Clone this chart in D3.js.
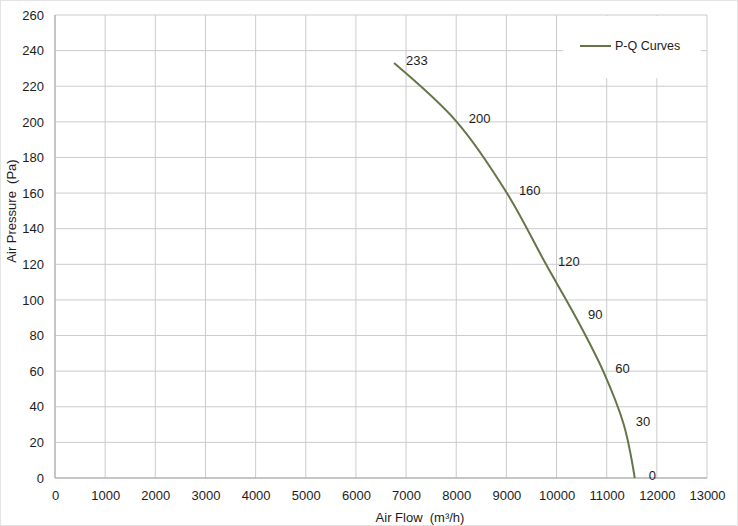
<!DOCTYPE html>
<html>
<head>
<meta charset="utf-8">
<script src="https://cdn.jsdelivr.net/npm/d3@7"></script>
<style>
  body { margin: 0; background: #fff; }
  svg { display: block; font-family: "Liberation Sans", Arial, sans-serif; }
  text { white-space: pre; }
</style>
</head>
<body>
<div id="chart"></div>
<script>
// P-Q curve
var pressure = [233, 200, 160, 120, 90, 60, 30, 0];
var airflow  = [6760, 8010, 9010, 9790, 10390, 10930, 11340, 11560];
var xTicks = [0, 1000, 2000, 3000, 4000, 5000, 6000, 7000, 8000, 9000, 10000, 11000, 12000, 13000];
var yTicks = [0, 20, 40, 60, 80, 100, 120, 140, 160, 180, 200, 220, 240, 260];
var seriesName = 'P-Q Curves';

var width = 738, height = 526;
var plotLeft = 55, plotRight = 707, plotTop = 15, plotBottom = 478;

var svg = d3.select('#chart').append('svg')
    .attr('width', width)
    .attr('height', height);

var x = d3.scaleLinear().domain([0, 13000]).range([plotLeft, plotRight]);
var y = d3.scaleLinear().domain([0, 260]).range([plotBottom, plotTop]);

// grid
svg.append('g')
    .selectAll('line')
    .data(xTicks)
    .enter().append('line')
    .attr('x1', function (d) { return x(d); })
    .attr('x2', function (d) { return x(d); })
    .attr('y1', plotTop).attr('y2', plotBottom)
    .attr('stroke', '#cbcbcb').attr('stroke-width', 1);

svg.append('g')
    .selectAll('line')
    .data(yTicks)
    .enter().append('line')
    .attr('x1', plotLeft).attr('x2', plotRight)
    .attr('y1', function (d) { return y(d); })
    .attr('y2', function (d) { return y(d); })
    .attr('stroke', '#cbcbcb').attr('stroke-width', 1);

// axes lines
svg.append('line')
    .attr('x1', plotLeft).attr('x2', plotRight)
    .attr('y1', plotBottom).attr('y2', plotBottom)
    .attr('stroke', '#a8a8a8').attr('stroke-width', 1.2);
svg.append('line')
    .attr('x1', plotLeft).attr('x2', plotLeft)
    .attr('y1', plotTop).attr('y2', plotBottom)
    .attr('stroke', '#b0b0b0').attr('stroke-width', 1.2);

// tick labels
var xAxis = svg.append('g')
    .attr('transform', 'translate(0,' + (plotBottom + 10) + ')')
    .call(d3.axisBottom(x).tickValues(xTicks).tickSize(0).tickFormat(d3.format('d')));
xAxis.select('.domain').remove();
xAxis.selectAll('text')
    .attr('font-size', 13).attr('fill', '#1c1c1c')
    .attr('font-family', '"Liberation Sans", Arial, sans-serif');

var yAxis = svg.append('g')
    .attr('transform', 'translate(' + (plotLeft - 10) + ',0)')
    .call(d3.axisLeft(y).tickValues(yTicks).tickSize(0).tickFormat(d3.format('d')));
yAxis.select('.domain').remove();
yAxis.selectAll('text')
    .attr('x', -1)
    .attr('font-size', 13).attr('fill', '#1c1c1c')
    .attr('font-family', '"Liberation Sans", Arial, sans-serif');

// axis titles
svg.append('text')
    .attr('x', 420).attr('y', 522)
    .attr('text-anchor', 'middle')
    .attr('font-size', 13).attr('fill', '#1c1c1c')
    .text('Air Flow  (m\u00b3/h)');

svg.append('text')
    .attr('transform', 'translate(16,211) rotate(-90)')
    .attr('text-anchor', 'middle')
    .attr('font-size', 13).attr('fill', '#1c1c1c')
    .text('Air Pressure  (Pa)');

// curve
var points = d3.zip(airflow, pressure);
var line = d3.line()
    .x(function (d) { return x(d[0]); })
    .y(function (d) { return y(d[1]); })
    .curve(d3.curveCatmullRom.alpha(0.5));

svg.append('path')
    .datum(points)
    .attr('d', line)
    .attr('fill', 'none')
    .attr('stroke', '#667548')
    .attr('stroke-width', 2);

// point labels
svg.append('g')
    .selectAll('text')
    .data(points)
    .enter().append('text')
    .attr('x', function (d) { return x(d[0]) + (d[1] === 0 ? 14 : 12); })
    .attr('y', function (d) { return y(d[1]) - 3; })
    .attr('dy', '0.35em')
    .attr('font-size', 13).attr('fill', '#1c1c1c')
    .text(function (d) { return d[1]; });

// legend
svg.append('rect')
    .attr('x', 563).attr('y', plotTop + 1)
    .attr('width', 138).attr('height', 62)
    .attr('fill', '#fff');
svg.append('line')
    .attr('x1', 580).attr('x2', 611)
    .attr('y1', 46).attr('y2', 46)
    .attr('stroke', '#667548').attr('stroke-width', 2);
svg.append('text')
    .attr('x', 615).attr('y', 46)
    .attr('dy', '0.35em')
    .attr('font-size', 12.5).attr('fill', '#1c1c1c')
    .text(seriesName);

// faint picture border
svg.append('rect')
    .attr('x', 0.5).attr('y', 0.5)
    .attr('width', width - 1).attr('height', height - 1)
    .attr('fill', 'none')
    .attr('stroke', '#e4e4e4');
</script>
</body>
</html>
